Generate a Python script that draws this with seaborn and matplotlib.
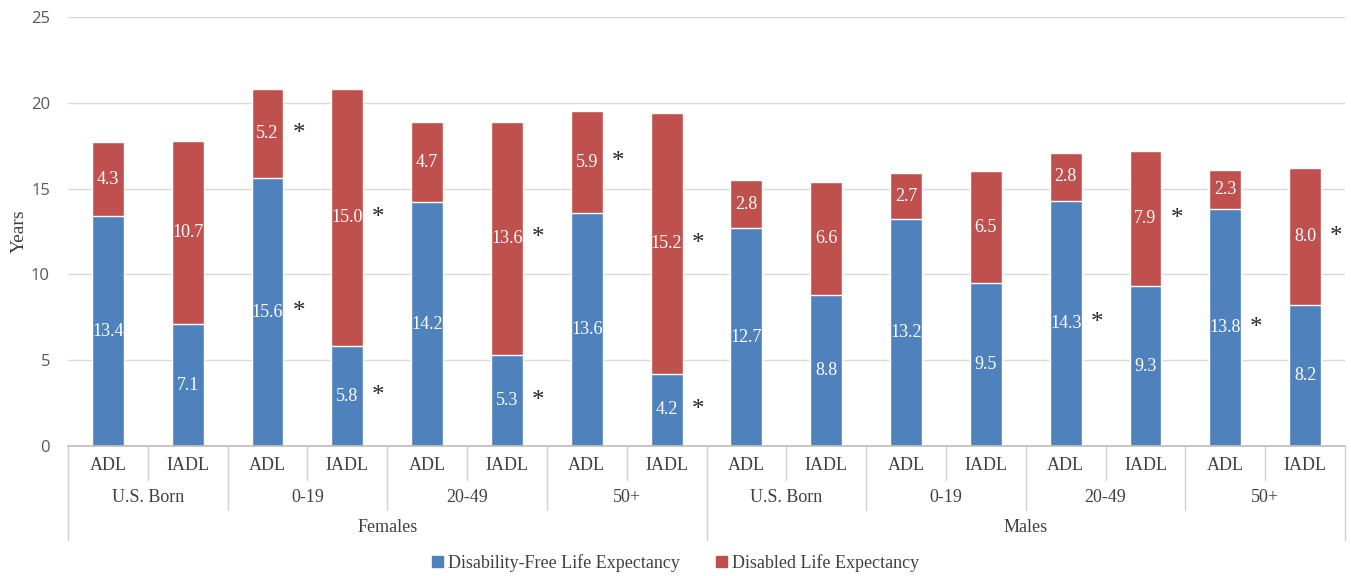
import matplotlib.pyplot as plt
import matplotlib.transforms as mtransforms
from matplotlib.patches import Patch
import pandas as pd
import seaborn as sns

sns.set_theme(style="white")
plt.rcParams['font.family'] = ['Liberation Serif', 'DejaVu Serif']

sexes = ["Females", "Males"]
groups = ["U.S. Born", "0-19", "20-49", "50+"]
measures = ["ADL", "IADL"]
free = [13.4, 7.1, 15.6, 5.8, 14.2, 5.3, 13.6, 4.2,
        12.7, 8.8, 13.2, 9.5, 14.3, 9.3, 13.8, 8.2]
disabled = [4.3, 10.7, 5.2, 15.0, 4.7, 13.6, 5.9, 15.2,
            2.8, 6.6, 2.7, 6.5, 2.8, 7.9, 2.3, 8.0]
star_free = [0, 0, 1, 1, 0, 1, 0, 1, 0, 0, 0, 0, 1, 0, 1, 0]
star_dis = [0, 0, 1, 1, 0, 1, 1, 1, 0, 0, 0, 0, 0, 1, 0, 1]

blue = "#4F81BD"
red = "#C0504D"

n = len(free)
df = pd.DataFrame({"pos": range(n), "free": free, "disabled": disabled})
df["total"] = df["free"] + df["disabled"]

fig = plt.figure(figsize=(13.51, 5.76), dpi=100)
ax = fig.add_axes([68 / 1351, 1 - 446 / 576, (1345 - 68) / 1351, (446 - 17) / 576])

sns.barplot(data=df, x="pos", y="total", color=red, width=0.4, saturation=1, ax=ax)
sns.barplot(data=df, x="pos", y="free", color=blue, width=0.4, saturation=1, ax=ax)

ax.set_xlim(-0.5, n - 0.5)
ax.set_ylim(0, 25)
ax.set_yticks([0, 5, 10, 15, 20, 25])
ax.set_yticklabels(["0", "5", "10", "15", "20", "25"], family="Open Sans",
                   fontsize=12, color="#595959")
ax.yaxis.grid(True, color="#D9D9D9", linewidth=1)
ax.set_axisbelow(True)
for s in ["top", "right", "left"]:
    ax.spines[s].set_visible(False)
ax.spines["bottom"].set_color("#BFBFBF")
ax.tick_params(axis="y", length=0, pad=13)
ax.set_xticks([])
ax.set_xlabel("")
ax.set_ylabel("Years", fontsize=14, color="#404040")
ax.yaxis.set_label_coords((28 - 68) / 1277, 0.5)

# value labels and significance stars
for i in range(n):
    f, d = free[i], disabled[i]
    ax.text(i, f / 2, f"{f:.1f}", ha="center", va="center", color="white", fontsize=13)
    ax.text(i, f + d / 2, f"{d:.1f}", ha="center", va="center", color="white", fontsize=13)
    if star_free[i]:
        ax.text(i + 0.39, f / 2, "*", ha="center", va="center", fontsize=18, color="#262626")
    if star_dis[i]:
        ax.text(i + 0.39, f + d / 2, "*", ha="center", va="center", fontsize=18, color="#262626")

# multi-level category axis
tr = mtransforms.blended_transform_factory(ax.transData, ax.transAxes)
h = 446 - 17
def yfrac(py):
    return (446 - py) / h

line_kw = dict(transform=tr, clip_on=False, color="#D0D0D0", linewidth=1)
txt_kw = dict(transform=tr, ha="center", va="center", fontsize=13, color="#404040")
for i in range(n):
    ax.text(i, yfrac(466), measures[i % 2], **txt_kw)
    if i % 2 == 0:
        ax.plot([i + 0.5, i + 0.5], [0, yfrac(480)], **line_kw)
for g in range(n // 2):
    ax.text(2 * g + 0.5, yfrac(497), groups[g % 4], **txt_kw)
    if g % 4 != 3:
        ax.plot([2 * g + 1.5] * 2, [0, yfrac(510)], **line_kw)
for k, s in enumerate(sexes):
    ax.text(8 * k + 3.5, yfrac(527), s, **txt_kw)
for xb in [-0.5, 7.5, 15.5]:
    ax.plot([xb, xb], [0, yfrac(540)], **line_kw)

handles = [Patch(color=blue, label="Disability-Free Life Expectancy"),
           Patch(color=red, label="Disabled Life Expectancy")]
fig.legend(handles=handles, loc="center", bbox_to_anchor=(0.5, 1 - 563 / 576), ncol=2,
           frameon=False, fontsize=13, handlelength=0.6, handleheight=0.6,
           handletextpad=0.3, columnspacing=2.0, labelcolor="#404040")

fig.savefig("out.png", dpi=100)
